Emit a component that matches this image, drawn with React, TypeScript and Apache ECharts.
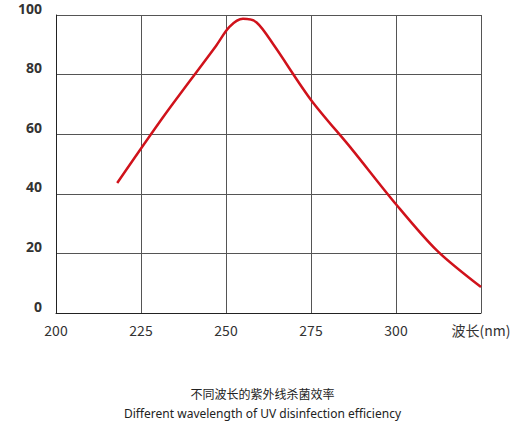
import { useEffect, useRef } from 'react';
import * as echarts from 'echarts';

const wavelengths = [218, 232, 247, 251, 255, 259, 264, 275, 287, 300, 312, 325];
const efficiency = [43.6, 66.5, 89.5, 96, 98.7, 97.5, 90, 71.5, 55, 36.5, 21, 8.7];

const xTicks = [200, 225, 250, 275, 300, 325];
const yTicks = [0, 20, 40, 60, 80, 100];
const titleZh = '不同波长的紫外线杀菌效率';
const titleEn = 'Different wavelength of UV disinfection efficiency';

const TEXT_COLOR = '#333';
const GRID_COLOR = '#555';
const LINE_COLOR = '#d0121b';

export default function App() {
  const ref = useRef<HTMLDivElement>(null);

  useEffect(() => {
    document.body.style.margin = '0';
    if (!ref.current) return;
    const chart = echarts.init(ref.current, undefined, { renderer: 'svg' });

    chart.setOption({
      animation: false,
      grid: { left: 56, right: 44, top: 15, bottom: 113 },
      title: {
        text: titleZh,
        subtext: titleEn,
        left: 'center',
        top: 382,
        itemGap: 8,
        textStyle: { fontSize: 12, fontWeight: 'normal', color: '#222', fontFamily: 'Noto Sans CJK SC' },
        subtextStyle: { fontSize: 12, color: '#222', fontFamily: 'Noto Sans' },
      },
      xAxis: {
        type: 'value',
        min: xTicks[0],
        max: xTicks[xTicks.length - 1],
        interval: 25,
        axisLine: { lineStyle: { color: '#222', width: 1 } },
        axisTick: { show: false },
        axisLabel: {
          color: TEXT_COLOR,
          fontSize: 14,
          margin: 10,
          fontFamily: 'Noto Sans CJK SC',
          formatter: (v: number) => (v === 325 ? '波长(nm)' : String(v)),
          align: 'center',
        },
        splitLine: { lineStyle: { color: GRID_COLOR, width: 1 } },
      },
      yAxis: {
        type: 'value',
        min: yTicks[0],
        max: yTicks[yTicks.length - 1],
        interval: 20,
        axisLine: { show: true, lineStyle: { color: '#222', width: 1 } },
        axisTick: { show: false },
        axisLabel: { color: TEXT_COLOR, fontSize: 14, fontWeight: 'bold', margin: 14, fontFamily: 'Noto Sans',
          verticalAlign: 'bottom' },
        splitLine: { lineStyle: { color: GRID_COLOR, width: 1 } },
      },
      series: [
        {
          type: 'line',
          smooth: 0.3,
          showSymbol: false,
          lineStyle: { color: LINE_COLOR, width: 2.5 },
          data: wavelengths.map((w, i) => [w, efficiency[i]]),
        },
      ],
    });

    return () => chart.dispose();
  }, []);

  return <div ref={ref} style={{ width: 525, height: 426 }} />;
}
